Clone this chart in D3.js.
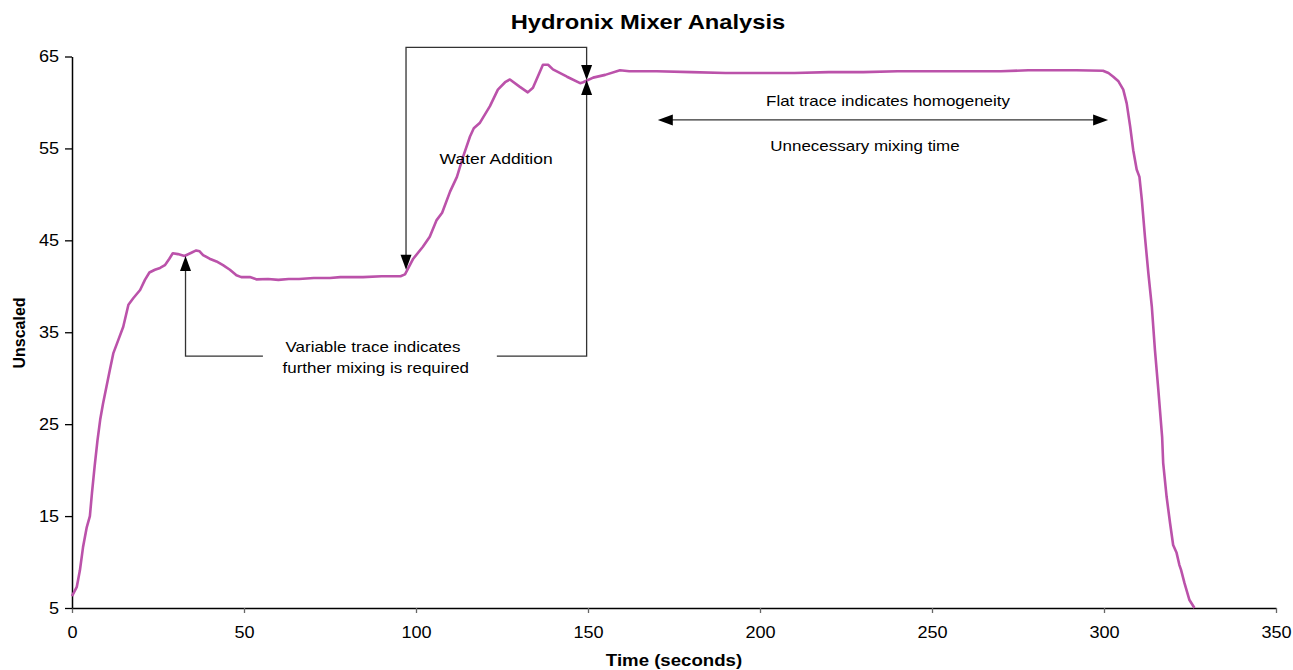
<!DOCTYPE html>
<html>
<head>
<meta charset="utf-8">
<script src="https://cdn.jsdelivr.net/npm/d3@7"></script>
<style>
  body { margin: 0; background: #fff; }
  svg { display: block; font-family: "Liberation Sans", Arial, sans-serif; }
</style>
</head>
<body>
<div id="chart"></div>
<script>
// trace: time (s) and unscaled reading
var times = [0, 1.4, 2.3, 3.2, 4.3, 5.2, 5.8, 6.6, 7.4, 8.2, 9.0, 11.0, 12.0, 13.5, 14.9, 16.4, 17.8, 19.8, 21.2, 22.5,
	24.1, 25.6, 27.0, 28.3, 29.3, 30.8, 32.7, 34.7, 36.1, 37.1, 38.1, 40.0, 42.0, 43.9, 45.9, 47.8, 49.2, 51.7, 53.7,
	57.0, 60.0, 63.0, 66.0, 70.3, 75.0, 78.0, 84.6, 90.0, 95.5, 96.8, 99.2, 102.0, 104.0, 106.0, 107.6, 109.9, 111.9,
	113.7, 115.7, 116.8, 118.6, 121.5, 123.8, 125.9, 127.3, 130.2, 132.5, 134.0, 136.9, 138.4, 139.8, 143.9, 147.7,
	148.6, 151.5, 155.0, 159.3, 162.0, 170, 180, 190, 200, 210, 220, 230, 240, 250, 260, 270, 278, 285, 292, 299.7,
	301.3, 302.7, 304.2, 305.6, 306.6, 307.6, 308.5, 309.5, 310.3, 311.0, 311.9, 312.9, 313.9, 314.8, 315.8, 316.9,
	317.2, 318.2, 319.2, 320.1, 321.1, 321.9, 322.4, 323.4, 324.8, 326.3];
var values = [6.3, 7.3, 9.1, 11.6, 13.8, 15.0, 17.5, 20.5, 23.2, 25.5, 27.2, 30.9, 32.7, 34.2, 35.6, 38.0, 38.7, 39.6, 40.7, 41.5,
	41.8, 42.0, 42.3, 43.0, 43.6, 43.5, 43.3, 43.65, 43.9, 43.8, 43.4, 43.0, 42.7, 42.3, 41.8, 41.2, 41.0, 41.0, 40.75,
	40.8, 40.7, 40.8, 40.8, 40.9, 40.9, 41.0, 41.0, 41.1, 41.1, 41.3, 43.0, 44.3, 45.4, 47.2, 48.0, 50.3, 51.9,
	54.1, 56.3, 57.2, 57.8, 59.6, 61.4, 62.2, 62.5, 61.7, 61.1, 61.6, 64.1, 64.1, 63.6, 62.8, 62.1,
	62.2, 62.7, 63.0, 63.5, 63.4, 63.4, 63.3, 63.2, 63.2, 63.2, 63.3, 63.3, 63.4, 63.4, 63.4, 63.4, 63.5, 63.5, 63.5, 63.45,
	63.2, 62.8, 62.3, 61.4, 59.9, 57.4, 54.8, 52.7, 51.9, 49.4, 45.4, 41.4, 37.8, 33.1, 28.7, 23.6,
	20.8, 17.1, 14.25, 11.85, 11.0, 9.7, 9.15, 7.7, 5.9, 5.0];
var xTicks = [0, 50, 100, 150, 200, 250, 300, 350];
var yTicks = [5, 15, 25, 35, 45, 55, 65];

var width = 1293, height = 670;
var stretch = 1.13;   // text in the picture is a bit wide

var svg = d3.select("#chart").append("svg")
	.attr("width", width)
	.attr("height", height);

var x = d3.scaleLinear().domain([0, 350]).range([72, 1276]);
var y = d3.scaleLinear().domain([5, 65]).range([608, 56.5]);

// axes
var xAxis = svg.append("g")
	.attr("transform", "translate(0," + y(5) + ")")
	.call(d3.axisBottom(x).tickValues(xTicks).tickSize(5).tickSizeOuter(0).tickPadding(14));
var yAxis = svg.append("g")
	.attr("transform", "translate(" + x(0) + ",0)")
	.call(d3.axisLeft(y).tickValues(yTicks).tickSize(7).tickSizeOuter(0).tickPadding(7));

svg.selectAll(".domain").attr("stroke", "#000").attr("stroke-width", 1.5);
xAxis.selectAll(".tick line").attr("stroke", "#666").attr("stroke-width", 1.3);
yAxis.selectAll(".tick line").attr("stroke", "#000").attr("stroke-width", 1.3);
svg.selectAll(".tick text")
	.attr("font-family", "Liberation Sans, Arial, sans-serif")
	.attr("font-size", 16)
	.attr("fill", "#000")
	.attr("transform", "scale(" + stretch + ",1)");
yAxis.selectAll(".tick text").attr("x", -13 / stretch);

// trace
var trace = d3.zip(times, values);
svg.append("path")
	.datum(trace)
	.attr("fill", "none")
	.attr("stroke", "#bb52aa")
	.attr("stroke-width", 2.6)
	.attr("stroke-linejoin", "round")
	.attr("d", d3.line().x(function(d){ return x(d[0]); }).y(function(d){ return y(d[1]); }));

// helpers
function label(txt, px, py, size, weight){
	return svg.append("text")
		.attr("transform", "translate(" + px + "," + py + ") scale(" + stretch + ",1)")
		.attr("text-anchor", "middle")
		.attr("font-size", size)
		.attr("font-weight", weight || "normal")
		.attr("fill", "#000")
		.text(txt);
}
function line(pts){
	svg.append("path")
		.attr("fill", "none")
		.attr("stroke", "#333")
		.attr("stroke-width", 1.3)
		.attr("d", d3.line()(pts));
}
// arrow head with tip at (tx,ty), pointing dir: "up","down","left","right"
function head(tx, ty, dir){
	var L = 15, W = 5.5, p;
	if (dir == "up") p = [[tx, ty], [tx - W, ty + L], [tx + W, ty + L]];
	if (dir == "down") p = [[tx, ty], [tx - W, ty - L], [tx + W, ty - L]];
	if (dir == "left") p = [[tx, ty], [tx + L, ty - W], [tx + L, ty + W]];
	if (dir == "right") p = [[tx, ty], [tx - L, ty - W], [tx - L, ty + W]];
	svg.append("path").attr("fill", "#000").attr("d", "M" + p.join("L") + "Z");
}

// titles
label("Hydronix Mixer Analysis", 648, 29, 21, "bold");
label("Time (seconds)", 674, 666, 16.5, "bold");
svg.append("text")
	.attr("transform", "translate(25,333) rotate(-90)")
	.attr("text-anchor", "middle")
	.attr("font-size", 16)
	.attr("font-weight", "bold")
	.text("Unscaled");

// variable trace bracket
var tA = 33, tW0 = 97.1, tW1 = 149.6;
var vBox = 32.4, vTop = 66.0;
line([[x(tA), y(43.3) + 14], [x(tA), y(vBox)], [x(55.5), y(vBox)]]);
line([[x(123.5), y(vBox)], [x(tW1), y(vBox)], [x(tW1), y(62.45) + 14]]);
head(x(tA), y(43.3), "up");
head(x(tW1), y(62.45), "up");
label("Variable trace indicates", x(87.5), 352, 15);
label("further mixing is required", x(88.3), 373, 15);

// water addition bracket
line([[x(tW0), y(41.8) - 14], [x(tW0), y(vTop)], [x(tW1), y(vTop)], [x(tW1), y(62.45) - 14]]);
head(x(tW0), y(41.8), "down");
head(x(tW1), y(62.45), "down");
label("Water Addition", x(123.3), 164, 15.5);

// unnecessary mixing time
line([[x(170.3) + 14, y(58.1)], [x(301.2) - 14, y(58.1)]]);
head(x(170.3), y(58.1), "left");
head(x(301.2), y(58.1), "right");
label("Flat trace indicates homogeneity", 888, 106, 15);
label("Unnecessary mixing time", 865, 151, 15);
</script>
</body>
</html>
